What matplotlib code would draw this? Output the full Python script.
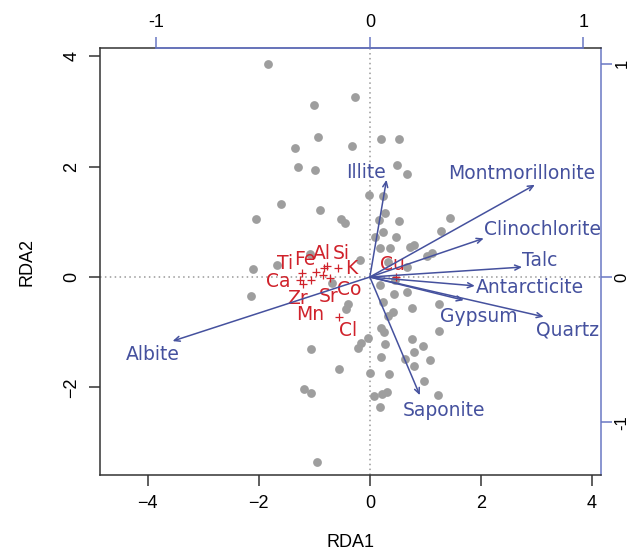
import matplotlib.pyplot as plt
import numpy as np

# site scores (grey points)
site_x = [-1.84, -0.26, -1.01, -0.93, -0.32, -1.35, 0.20, 0.52, -1.30, -0.98,
          0.49, 0.67, -1.59, -0.89, -2.05, -0.51, -0.44, -0.01, 0.24, 0.27,
          0.17, 0.52, 0.23, 0.47, 0.10, 0.18, 0.36, 0.72, 0.79, 1.02,
          1.11, 1.45, 1.28, -2.11, -1.67, -1.08, -0.18, 0.66, -2.13, -0.68,
          -0.40, -0.43, 0.19, 0.44, 0.66, 0.23, 0.75, 1.24, 0.42, 0.33,
          0.21, 0.26, -0.03, 1.25, 0.76, 0.96, 0.28, -0.15, -0.22, -1.05,
          0.79, 0.20, 0.63, 1.08, 0.80, -0.55, 0.01, 0.34, 0.97, -1.19,
          -1.05, 0.31, 0.22, 0.07, 1.22, 0.18, -0.95, 0.32, 0.45]
site_y = [3.86, 3.26, 3.12, 2.54, 2.38, 2.34, 2.50, 2.50, 1.998, 1.93,
          2.03, 1.87, 1.32, 1.21, 1.05, 1.05, 0.98, 1.49, 1.46, 1.16,
          1.03, 1.02, 0.82, 0.73, 0.73, 0.52, 0.52, 0.55, 0.58, 0.38,
          0.43, 1.06, 0.83, 0.15, 0.22, 0.42, 0.30, 0.18, -0.34, -0.10,
          -0.48, -0.57, -0.15, -0.31, -0.28, -0.46, -0.56, -0.49, -0.63, -0.70,
          -0.92, -1.00, -1.10, -0.98, -1.12, -1.24, -1.21, -1.20, -1.29, -1.30,
          -1.35, -1.45, -1.49, -1.50, -1.61, -1.67, -1.73, -1.76, -1.88, -2.03,
          -2.10, -2.08, -2.11, -2.16, -2.14, -2.36, -3.35, 0.27, -0.05]

# species scores (red crosses + labels)
sp_names = ["Ti", "Fe", "Al", "Si", "K", "Ca", "Zr", "Sr", "Co", "Mn", "Cl", "Cu"]
sp_x = [-1.22, -0.97, -0.82, -0.77, -0.57, -1.25, -1.21, -0.84, -0.71, -1.05, -0.56, 0.48]
sp_y = [0.08, 0.10, 0.17, 0.20, 0.16, -0.05, -0.13, 0.03, -0.02, -0.05, -0.73, 0.0]
sp_lab_x = [-1.53, -1.17, -0.86, -0.52, -0.33, -1.65, -1.31, -0.74, -0.37, -1.08, -0.39, 0.40]
sp_lab_y = [0.25, 0.32, 0.43, 0.43, 0.16, -0.09, -0.38, -0.36, -0.23, -0.68, -0.96, 0.22]

# biplot arrows (constraints)
env_names = ["Illite", "Montmorillonite", "Clinochlorite", "Talc", "Antarcticite",
             "Gypsum", "Quartz", "Saponite", "Albite"]
env_x = [0.30, 2.97, 2.05, 2.74, 1.89, 1.69, 3.13, 0.90, -3.55]
env_y = [1.76, 1.67, 0.70, 0.18, -0.16, -0.42, -0.72, -2.14, -1.16]
env_lab_x = [-0.06, 2.74, 3.10, 3.06, 2.89, 1.97, 3.55, 1.33, -3.90]
env_lab_y = [1.90, 1.88, 0.86, 0.30, -0.19, -0.72, -0.96, -2.41, -1.41]

mul = 3.84  # arrow scale for the top axis
right_ticks = [3.86, 0.0, -2.63]
right_labels = ["1", "0", "-1"]

blue = "#45519e"
axblue = "#6a78c4"
red = "#d0222b"

plt.rcParams["font.family"] = ["Liberation Sans", "DejaVu Sans"]
plt.rcParams["axes.unicode_minus"] = False
fig = plt.figure(figsize=(6.29, 5.57), dpi=100)
ax = fig.add_axes([0.159, 0.147, 0.796, 0.767])
ax.set_xlim(-4.856, 4.155)
ax.set_ylim(-3.587, 4.149)

ax.axhline(0, color="#999999", linestyle=(0, (1, 2.2)), linewidth=1.1, zorder=1)
ax.axvline(0, color="#999999", linestyle=(0, (1, 2.2)), linewidth=1.1, zorder=1)

ax.scatter(site_x, site_y, s=40, color="#9e9e9e", linewidths=0, zorder=2)

ax.scatter(sp_x, sp_y, marker="+", s=30, color=red, linewidths=0.9, zorder=3)
for n, x, y in zip(sp_names, sp_lab_x, sp_lab_y):
    ax.text(x, y, n, color=red, fontsize=13.5, ha="center", va="center",
            family="DejaVu Sans", zorder=4)

for x, y in zip(env_x, env_y):
    ax.annotate("", xy=(x, y), xytext=(0, 0),
                arrowprops=dict(arrowstyle="->,head_length=0.4,head_width=0.18",
                                color=blue, linewidth=1.1, shrinkA=0, shrinkB=0),
                zorder=5)
for n, x, y in zip(env_names, env_lab_x, env_lab_y):
    ax.text(x, y, n, color=blue, fontsize=13.5, ha="center", va="center",
            family="DejaVu Sans", zorder=6)

# axes and box
for s in ax.spines.values():
    s.set_color("#333333")
    s.set_linewidth(1.1)
ax.spines["right"].set_color(axblue)
ax.set_xticks([-4, -2, 0, 2, 4])
ax.set_xticklabels(["\u22124", "\u22122", "0", "2", "4"])
ax.set_yticks([-2, 0, 2, 4])
ax.set_yticklabels(["\u22122", "0", "2", "4"], rotation=90, va="center")
ax.tick_params(length=8, width=1.1, labelsize=13, color="#333333", pad=6)
ax.set_xlabel("RDA1", fontsize=13, labelpad=16)
ax.set_ylabel("RDA2", fontsize=13, labelpad=20)

top = ax.secondary_xaxis("top", functions=(lambda v: v / mul, lambda v: v * mul))
top.set_xticks([-1, 0, 1])
top.tick_params(length=8, width=1.1, labelsize=13, color=axblue, pad=4)
top.spines["top"].set_visible(False)
ax.plot([-mul, mul], [1, 1], transform=ax.get_xaxis_transform(), color=axblue,
        linewidth=1.3, clip_on=False, zorder=7)

right = ax.secondary_yaxis("right")
right.set_yticks(right_ticks)
right.set_yticklabels(right_labels, rotation=90, va="center")
right.tick_params(length=8, width=1.1, labelsize=12, color=axblue, pad=2)
right.spines["right"].set_visible(False)

fig.savefig("out.png", dpi=100)
